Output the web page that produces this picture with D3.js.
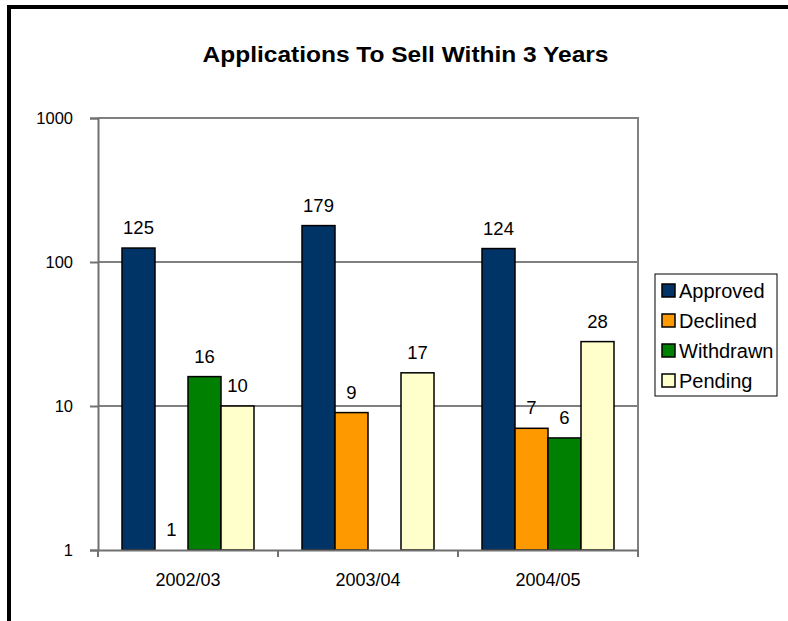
<!DOCTYPE html>
<html><head><meta charset="utf-8">
<script src="https://cdn.jsdelivr.net/npm/d3@7"></script>
<style>body{margin:0;background:#fff;} svg{display:block;font-family:"Liberation Sans",Arial,sans-serif;}</style>
</head><body>
<script>
const title = "Applications To Sell Within 3 Years";
const categories = ["2002/03", "2003/04", "2004/05"];
const seriesNames = ["Approved", "Declined", "Withdrawn", "Pending"];
const approved = [125, 179, 124];
const declined = [1, 9, 7];
const withdrawn = [16, null, 6];
const pending = [10, 17, 28];
const yTicks = [1, 10, 100, 1000];
const colors = ["#003366", "#FF9900", "#008000", "#FFFFCC"];
const seriesValues = [approved, declined, withdrawn, pending];

const W = 788, H = 621;
const FF = "Liberation Sans, Arial, sans-serif";
const svg = d3.select("body").append("svg").attr("width", W).attr("height", H);
svg.append("rect").attr("width", W).attr("height", H).attr("fill", "#fff");
// outer frame (left and top)
svg.append("line").attr("x1", 9).attr("x2", 9).attr("y1", 5).attr("y2", H).attr("stroke", "#000").attr("stroke-width", 4);
svg.append("line").attr("x1", 7).attr("x2", W).attr("y1", 7).attr("y2", 7).attr("stroke", "#000").attr("stroke-width", 4);

svg.append("text").attr("x", 405.5).attr("y", 62).attr("text-anchor", "middle")
  .attr("font-size", 22).attr("font-weight", "bold")
  .attr("textLength", 406).attr("lengthAdjust", "spacingAndGlyphs").text(title);

const L = 98, R = 638, T = 118, B = 550;
const y = d3.scaleLog().domain([1, 1000]).range([B, T]);
const x0 = d3.scaleBand().domain(categories).range([L, R]).padding(0);
const x1 = d3.scaleBand().domain(seriesNames).range([24, x0.bandwidth() - 24]).padding(0);

// gridlines
svg.append("g").selectAll("line").data(yTicks.filter(t => t > 1 && t < 1000)).join("line")
  .attr("x1", L).attr("x2", R).attr("y1", d => y(d)).attr("y2", d => y(d))
  .attr("stroke", "#000").attr("stroke-width", 1);
// plot border top/right
svg.append("path").attr("d", `M${L},${T}H${R}V${B}`).attr("fill", "none").attr("stroke", "#808080").attr("stroke-width", 2);

// bars
const groups = svg.append("g").selectAll("g").data(categories).join("g")
  .attr("transform", d => `translate(${x0(d)},0)`);
groups.each(function(cat, ci) {
  const g = d3.select(this);
  seriesNames.forEach((s, si) => {
    const v = seriesValues[si][ci];
    if (v == null) return;
    const bx = x1(s), bw = x1.bandwidth();
    if (v > 1) {
      g.append("rect").attr("x", bx).attr("y", y(v)).attr("width", bw).attr("height", y(1) - y(v))
        .attr("fill", colors[si]).attr("stroke", "#000").attr("stroke-width", 1.5);
    }
    g.append("text").attr("x", bx + bw / 2).attr("y", y(v) - 14).attr("text-anchor", "middle")
      .attr("font-size", 18.5).text(v);
  });
});

// axes
const yAxis = d3.axisLeft(y).tickValues(yTicks).tickFormat(d3.format("d")).tickSize(8).tickPadding(17);
const gy = svg.append("g").attr("transform", `translate(${L},0)`).call(yAxis);
gy.select(".domain").attr("stroke", "#707070").attr("stroke-width", 2);
gy.selectAll(".tick line").attr("stroke", "#707070").attr("stroke-width", 2);
gy.selectAll("text").attr("font-size", 16.5).attr("font-family", FF).attr("fill", "#000");

const xAxis = d3.axisBottom(x0).tickSize(0).tickPadding(23);
const gx = svg.append("g").attr("transform", `translate(0,${B})`).call(xAxis);
gx.select(".domain").attr("stroke", "#707070").attr("stroke-width", 2);
gx.selectAll("text").attr("font-size", 18).attr("font-family", FF).attr("fill", "#000");
// category separator ticks
gx.append("g").selectAll("line").data(d3.range(categories.length + 1)).join("line")
  .attr("x1", i => L + i * x0.bandwidth()).attr("x2", i => L + i * x0.bandwidth())
  .attr("y1", 0).attr("y2", 7).attr("stroke", "#707070").attr("stroke-width", 2);

// legend
const lg = svg.append("g").attr("transform", "translate(655,274)");
lg.append("rect").attr("width", 122).attr("height", 122).attr("fill", "#fff").attr("stroke", "#000").attr("stroke-width", 1);
seriesNames.forEach((s, i) => {
  const yy = 17 + i * 30;
  lg.append("rect").attr("x", 7).attr("y", yy - 7).attr("width", 13).attr("height", 13)
    .attr("fill", colors[i]).attr("stroke", "#000").attr("stroke-width", 1.5);
  lg.append("text").attr("x", 24).attr("y", yy + 7).attr("font-size", 20).text(s);
});
</script>
</body></html>
